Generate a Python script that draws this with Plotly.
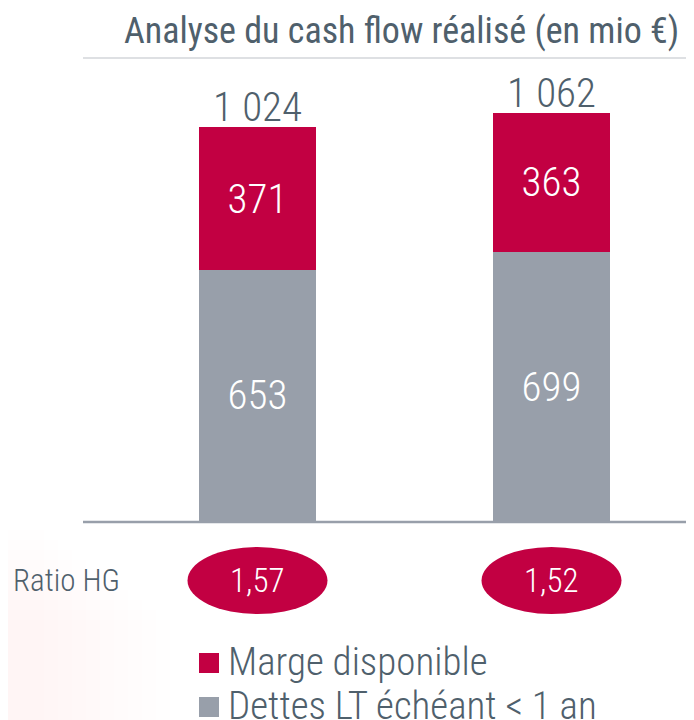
import plotly.graph_objects as go

categories = ["Période 1", "Période 2"]
dettes_lt = [653, 699]
marge_dispo = [371, 363]
totaux = [1024, 1062]
ratio_hg = ["1,57", "1,52"]

title_text = "Analyse du cash flow réalisé (en mio €)"
series_names = ["Marge disponible", "Dettes LT échéant < 1 an"]
ratio_label = "Ratio HG"

RED = "#C20042"
GRAY = "#989FAA"
TXT = "#4F606C"
COND = "Roboto Condensed, Roboto, sans-serif"

# page body adds an 8px offset; reference pixel coordinates are converted below
OFF = 8
W, H = 694 - OFF, 720 - OFF
ML, MR, MT, MB = 83 - OFF, 0, 60 - OFF, 199
plot_h = H - MT - MB
plot_w = W - ML - MR


def py(pix):
    return (H - MB - (pix - OFF)) / plot_h


def px(pix):
    return (pix - OFF - ML) / plot_w


fig = go.Figure()

# very faint pink glow on the left edge (stacked thin layers for a soft gradient)
for k in range(1, 13):
    fig.add_shape(type="rect", xref="paper", yref="paper", x0=px(0), x1=px(10 + 6 * k),
                  y0=py(720), y1=py(0), fillcolor="rgba(225,165,165,0.004)",
                  line=dict(width=0), layer="below")
for k in range(1, 11):
    fig.add_shape(type="rect", xref="paper", yref="paper", x0=px(0), x1=px(30 + 14 * k),
                  y0=py(720), y1=py(520 + 10 * k), fillcolor="rgba(225,165,165,0.006)",
                  line=dict(width=0), layer="below")

fig.add_trace(go.Bar(
    x=categories, y=dettes_lt, name=series_names[1], marker_color=GRAY,
    marker_line_width=0,
    width=0.398, text=[str(v) for v in dettes_lt], textposition="inside",
    insidetextanchor="middle", constraintext="none",
    textfont=dict(color="white", size=41, family=COND, weight=300),
    showlegend=False,
))
fig.add_trace(go.Bar(
    x=categories, y=marge_dispo, name=series_names[0], marker_color=RED,
    marker_line_width=0,
    width=0.398, text=[str(v) for v in marge_dispo], textposition="inside",
    insidetextanchor="middle", constraintext="none",
    textfont=dict(color="white", size=41, family=COND, weight=300),
    showlegend=False,
))


def fmt_thousands(v):
    return f"{v:,}".replace(",", " ")


for c, t in zip(categories, totaux):
    fig.add_annotation(x=c, y=t, text=fmt_thousands(t), showarrow=False,
                       yanchor="bottom", yshift=-6,
                       font=dict(size=41, color=TXT, family=COND, weight=300))

# ratio ellipses
half_w = 70 / 294
for i, (c, r) in enumerate(zip(categories, ratio_hg)):
    fig.add_shape(type="circle", xref="x", yref="paper",
                  x0=i - half_w, x1=i + half_w, y0=py(614), y1=py(547),
                  fillcolor=RED, line=dict(width=0), layer="above")
    fig.add_annotation(x=c, y=py(580), yref="paper", text=r, showarrow=False,
                       yanchor="middle", xanchor="center",
                       font=dict(size=33, color="white", family=COND, weight=300))

fig.add_annotation(x=px(11), y=py(580), xref="paper", yref="paper", text=ratio_label,
                   showarrow=False, xanchor="left", yanchor="middle",
                   font=dict(size=31, color=TXT, family=COND, weight=300))

# baseline and title rule
fig.add_shape(type="line", xref="paper", yref="paper", x0=0, x1=1, y0=py(522), y1=py(522),
              line=dict(color=GRAY, width=2.5))
fig.add_shape(type="line", xref="paper", yref="paper", x0=0, x1=1, y0=py(58), y1=py(58),
              line=dict(color="#D3D6DA", width=1.5))

fig.add_annotation(x=px(681), y=py(31), xref="paper", yref="paper", text=title_text,
                   showarrow=False, xanchor="right", yanchor="middle",
                   font=dict(size=36, color=TXT, family=COND, weight=400))

# legend drawn manually
for name, col, top in [(series_names[0], RED, 653), (series_names[1], GRAY, 697)]:
    fig.add_shape(type="rect", xref="paper", yref="paper", x0=px(199), x1=px(219),
                  y0=py(top + 20), y1=py(top), fillcolor=col, line=dict(width=0))
    fig.add_annotation(x=px(226), y=py(top + 9), xref="paper", yref="paper", text=name,
                       showarrow=False, xanchor="left", yanchor="middle",
                       font=dict(size=39, color=TXT, family=COND, weight=300))

fig.update_layout(
    width=W, height=H, barmode="stack",
    margin=dict(l=ML, r=MR, t=MT, b=MB),
    paper_bgcolor="white", plot_bgcolor="rgba(0,0,0,0)",
    xaxis=dict(type="category", range=[-0.5935, 1.4847], showticklabels=False,
               showgrid=False, zeroline=False, showline=False, fixedrange=True),
    yaxis=dict(range=[0, plot_h / 0.3845], visible=False, fixedrange=True),
    showlegend=False,
)
fig.write_html("out.html")
